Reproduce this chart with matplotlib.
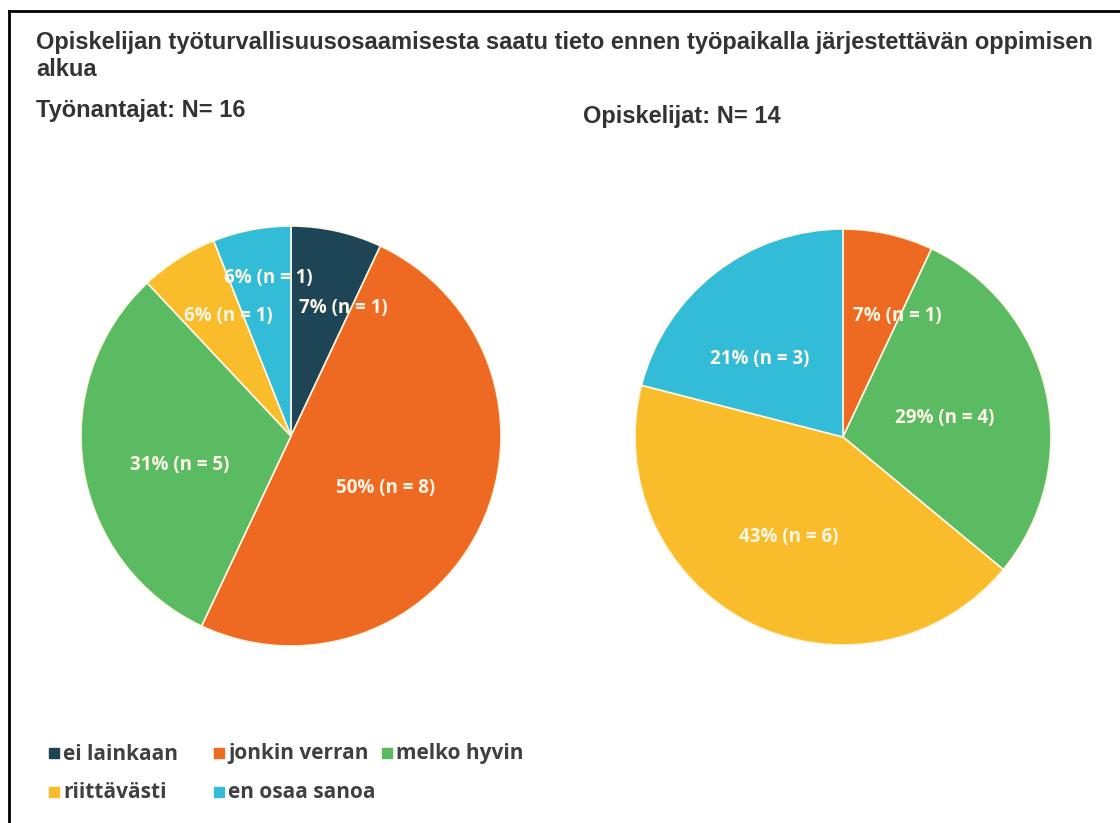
import matplotlib.pyplot as plt
from matplotlib.lines import Line2D

# Data
categories = ['ei lainkaan', 'jonkin verran', 'melko hyvin', 'riittävästi', 'en osaa sanoa']
colors = ['#1d4556', '#ee6a22', '#5bbb62', '#f9bd2b', '#33bcd8']

# Työnantajat (N = 16)
emp_pct = [7, 50, 31, 6, 6]
emp_n = [1, 8, 5, 1, 1]

# Opiskelijat (N = 14), ei lainkaan puuttuu
stu_cats = ['jonkin verran', 'melko hyvin', 'riittävästi', 'en osaa sanoa']
stu_pct = [7, 29, 43, 21]
stu_n = [1, 4, 6, 3]

# label placement inside the pies (unit radius)
emp_label_pos = [(0.25, 0.61), (0.45, -0.25), (-0.53, -0.14), (-0.30, 0.57), (-0.11, 0.75)]
stu_label_pos = [(0.26, 0.58), (0.49, 0.09), (-0.26, -0.48), (-0.40, 0.375)]

W, H = 1120, 823
fig = plt.figure(figsize=(W / 100, H / 100), dpi=100)
fig.patch.set_facecolor('white')


def draw_pie(rect, pct, n, cats, label_pos):
    ax = fig.add_axes(rect)
    cols = [colors[categories.index(c)] for c in cats]
    ax.pie(pct, colors=cols, startangle=90, counterclock=False,
           wedgeprops=dict(edgecolor='#fdf6e3', linewidth=1.2))
    for (x, y), p, k in zip(label_pos, pct, n):
        ax.text(x, y, f'{p}% (n = {k})', ha='center', va='center',
                color='#fdf6e6', fontsize=13.5, fontweight='bold', family='Open Sans')
    ax.set_xlim(-1, 1)
    ax.set_ylim(-1, 1)
    ax.set_aspect('equal')
    ax.axis('off')
    return ax


# left pie: center (291, 436), radius 210 px
draw_pie([81 / W, (H - 646) / H, 420 / W, 420 / H], emp_pct, emp_n, categories, emp_label_pos)
# right pie: center (843, 437), radius 208 px
draw_pie([635 / W, (H - 645) / H, 416 / W, 416 / H], stu_pct, stu_n, stu_cats, stu_label_pos)

# Titles
title_kw = dict(ha='left', va='center', fontsize=17, fontweight='bold',
                color='#333333', family='Liberation Sans')
fig.text(36 / W, 1 - 42 / H,
         'Opiskelijan työturvallisuusosaamisesta saatu tieto ennen työpaikalla järjestettävän oppimisen',
         **title_kw)
fig.text(36 / W, 1 - 70 / H, 'alkua', **title_kw)
fig.text(36 / W, 1 - 110 / H, 'Työnantajat: N= 16', **title_kw)
fig.text(583 / W, 1 - 116 / H, 'Opiskelijat: N= 14', **title_kw)

# Legend, drawn by hand (Excel style fixed columns)
leg_x = [54, 219, 387]
leg_y = [753, 792]
for i, cat in enumerate(categories):
    row, col = divmod(i, 3)
    x, y = leg_x[col], leg_y[row]
    fig.add_artist(Line2D([x / W], [1 - y / H], marker='s', markersize=7.5, linestyle='none',
                          markerfacecolor=colors[i], markeredgecolor=colors[i]))
    fig.text((x + 9) / W, 1 - (y + 1) / H, cat, ha='left', va='center', fontsize=15,
             fontweight='bold', family='Open Sans', color='#404040')

# frame lines (top and left only)
fig.add_artist(Line2D([9 / W, 1], [1 - 11 / H, 1 - 11 / H], color='black', linewidth=2))
fig.add_artist(Line2D([9 / W, 9 / W], [0, 1 - 11 / H], color='black', linewidth=2))

fig.savefig('out.png', dpi=100)
